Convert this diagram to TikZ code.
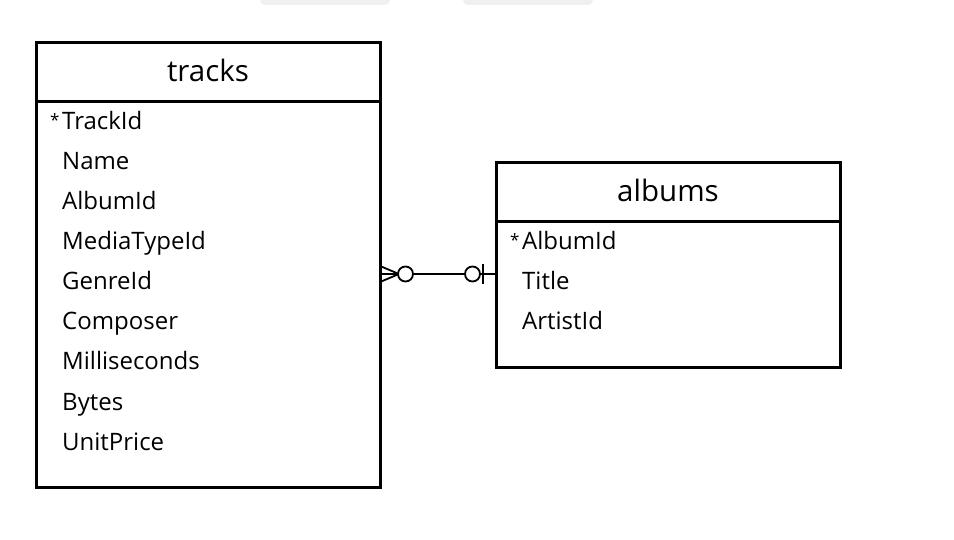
\documentclass[tikz,border=0pt]{standalone}
\usepackage{fontspec}
\setmainfont{Open Sans}
\begin{document}
\begin{tikzpicture}[x=1pt,y=-1pt,
  tbl/.style={draw=black,line width=3pt,inner sep=0pt,outer sep=0pt,minimum width=344pt},
  hdr/.style={font=\fontsize{29.5}{32}\selectfont,anchor=base,inner sep=0pt},
  row/.style={font=\fontsize{24}{27}\selectfont,anchor=base west,inner sep=0pt},
  star/.style={font=\fontsize{17}{20}\selectfont,anchor=base west,inner sep=0pt},
  rel/.style={line width=1.8pt},
  tab/.style={fill=black!6,draw=none,rounded corners=5pt}]
\useasboundingbox (0,0) rectangle (954,540);
% faint tabs at the top
\fill[tab] (260,-10) rectangle (390,5);
\fill[tab] (463,-10) rectangle (593,5);
% tracks
\node[tbl,minimum height=444pt,anchor=north west] (tracks) at (36,43) {};
\draw[line width=3pt] (36,102) coordinate (th1) -- (380,102) coordinate (th2);
\node[hdr] (tracksT) at (208,82) {tracks};
\node[star] (t0s) at (50,127) {*};
\node[row] (t0) at (62,130) {TrackId};
\node[row] (t1) at (62,170) {Name};
\node[row] (t2) at (62,210) {AlbumId};
\node[row] (t3) at (62,250) {MediaTypeId};
\node[row] (t4) at (62,290) {GenreId};
\node[row] (t5) at (62,330) {Composer};
\node[row] (t6) at (62,370) {Milliseconds};
\node[row] (t7) at (62,410) {Bytes};
\node[row] (t8) at (62,450) {UnitPrice};
% albums
\node[tbl,minimum height=204pt,anchor=north west] (albums) at (496,163) {};
\draw[line width=3pt] (496,222) coordinate (ah1) -- (840,222) coordinate (ah2);
\node[hdr] (albumsT) at (668,202) {albums};
\node[star] (a0s) at (510,247) {*};
\node[row] (a0) at (522,250) {AlbumId};
\node[row] (a1) at (522,290) {Title};
\node[row] (a2) at (522,330) {ArtistId};
% relationship
\coordinate (L) at (tracks.east |- 0,274);
\coordinate (R) at (albums.west |- 0,274);
\draw[rel] (L) -- (R);
\draw[rel] ([yshift=-8pt]L) -- ([xshift=19pt]L) -- ([yshift=8pt]L);
\draw[rel,fill=white] ([xshift=25.5pt]L) circle (7.5pt);
\draw[rel,fill=white] ([xshift=-23.5pt]R) circle (7.5pt);
\draw[rel] ([xshift=-13pt,yshift=-10pt]R) -- ([xshift=-13pt,yshift=10pt]R);
\end{tikzpicture}
\end{document}
